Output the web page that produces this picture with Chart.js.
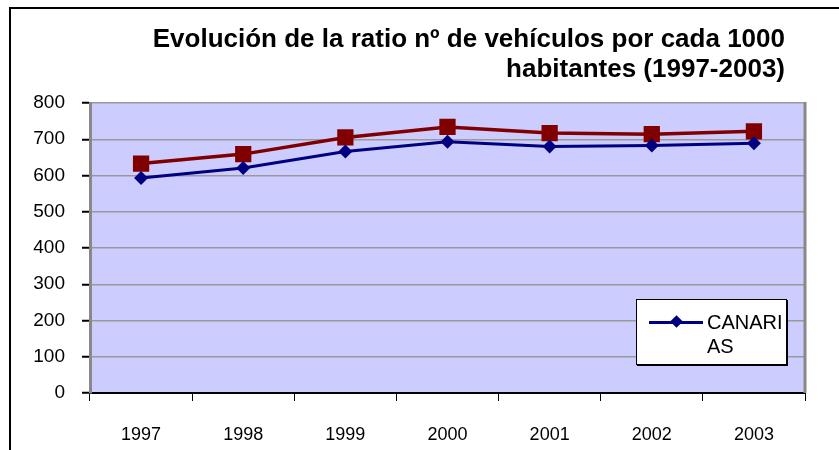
<!DOCTYPE html>
<html>
<head>
<meta charset="utf-8">
<script src="https://cdn.jsdelivr.net/npm/chart.js@4.4.1/dist/chart.umd.min.js"></script>
<style>
  html, body { margin: 0; padding: 0; background: #fff; }
  #wrap { position: relative; width: 839px; height: 450px; overflow: hidden;
          font-family: "Liberation Sans", Arial, sans-serif; color: #000; }
  #frame { position: absolute; left: 9px; top: 7px; width: 840px; height: 450px;
           border-top: 2px solid #000; border-left: 2px solid #000; }
  #chart { position: absolute; left: 0; top: 0; }
  #title { position: absolute; right: 54px; top: 23px; font-weight: bold; font-size: 26px;
           line-height: 30px; text-align: right; white-space: nowrap; }
  #legend { position: absolute; left: 636px; top: 299px; width: 149px; height: 64px;
            background: #fff; border: 1px solid #000; box-shadow: 1px 1px 0 #000; }
  .sample { position: absolute; left: 12px; top: 21px; width: 54px; height: 3px; }
  .mark { position: absolute; left: 23px; top: -4px; width: 9px; height: 9px; transform: rotate(45deg); }
  .txt { position: absolute; left: 70px; top: 10px; width: 79px; font-size: 20px; line-height: 24px;
         word-break: break-all; }
</style>
</head>
<body>
<div id="wrap">
  <div id="frame"></div>
  <canvas id="chart" width="839" height="450"></canvas>
  <div id="title">Evolución de la ratio nº de vehículos por cada 1000<br>habitantes (1997-2003)</div>
  <div id="legend"></div>
</div>
<script>
// Vehicles per 1000 inhabitants
const years = ['1997', '1998', '1999', '2000', '2001', '2002', '2003'];
const canarias = [593, 621, 666, 693, 680, 683, 689];
const espana = [633, 659, 705, 734, 717, 714, 722];
const yMin = 0, yMax = 800, yStep = 100;

Chart.defaults.font.family = '"Liberation Sans", Arial, sans-serif';
Chart.defaults.color = '#000';

// Lavender plot background and grey right-hand border of the plot area
const plotFrame = {
  id: 'plotFrame',
  beforeDraw(chart) {
    const { ctx, chartArea: a } = chart;
    ctx.save();
    ctx.fillStyle = '#CCCCFF';
    ctx.fillRect(a.left, a.top, a.right - a.left, a.bottom - a.top);
    ctx.restore();
  },
  beforeDatasetsDraw(chart) {
    const { ctx, chartArea: a } = chart;
    ctx.save();
    ctx.strokeStyle = '#888';
    ctx.lineWidth = 3;
    ctx.beginPath();
    ctx.moveTo(a.right, a.top - 1);
    ctx.lineTo(a.right, a.bottom);
    ctx.stroke();
    ctx.restore();
  }
};

const chart = new Chart(document.getElementById('chart'), {
  type: 'line',
  data: {
    labels: years,
    datasets: [
      {
        label: 'CANARIAS',
        data: canarias,
        borderColor: '#000080',
        backgroundColor: '#000080',
        borderWidth: 3,
        pointStyle: 'rectRot',
        pointRadius: 7,
        pointBorderWidth: 0,
        tension: 0
      },
      {
        label: 'ESPAÑA',
        data: espana,
        borderColor: '#800000',
        backgroundColor: '#800000',
        borderWidth: 3.5,
        pointStyle: 'rect',
        pointRadius: 11.5,
        pointBorderWidth: 0,
        tension: 0
      }
    ]
  },
  options: {
    responsive: false,
    animation: false,
    events: [],
    layout: { padding: { top: 103, right: 34, left: 0, bottom: 0 } },
    plugins: { legend: { display: false }, title: { display: false }, tooltip: { enabled: false } },
    scales: {
      x: {
        offset: true,
        grid: { offset: true, drawOnChartArea: false, tickLength: 8, tickColor: '#000', tickWidth: 1 },
        border: { color: '#000', width: 2 },
        ticks: { font: { size: 18 }, padding: 23, maxRotation: 0 },
        afterFit(s) { s.height = 57; }
      },
      y: {
        min: yMin,
        max: yMax,
        ticks: { stepSize: yStep, font: { size: 19 }, padding: 17 },
        grid: {
          color: (c) => (c.tick && c.tick.value === yMin ? 'rgba(0,0,0,0)' : '#999'),
          lineWidth: 1.5,
          tickColor: '#000',
          tickLength: 8,
          tickWidth: 2
        },
        border: { color: '#888', width: 3 },
        afterFit(s) { s.width = 90; }
      }
    }
  },
  plugins: [plotFrame]
});

// Legend box with the first series only
(function buildLegend() {
  const ds = chart.data.datasets[0];
  const box = document.getElementById('legend');
  const sample = document.createElement('div');
  sample.className = 'sample';
  sample.style.background = ds.borderColor;
  const mark = document.createElement('div');
  mark.className = 'mark';
  mark.style.background = ds.backgroundColor;
  sample.appendChild(mark);
  const txt = document.createElement('div');
  txt.className = 'txt';
  txt.textContent = ds.label;
  box.appendChild(sample);
  box.appendChild(txt);
})();
</script>
</body>
</html>
